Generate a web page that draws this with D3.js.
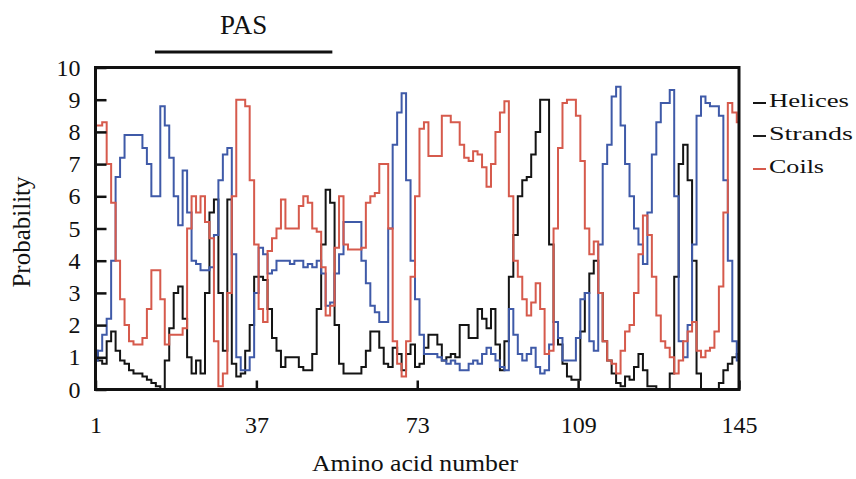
<!DOCTYPE html>
<html>
<head>
<meta charset="utf-8">
<script src="https://cdn.jsdelivr.net/npm/d3@7"></script>
<style>
  html, body { margin: 0; padding: 0; background: #fff; }
  svg { display: block; }
  text { font-family: "Liberation Serif", "Times New Roman", serif; fill: #111; }
</style>
</head>
<body>
<svg id="chart" width="856" height="479"></svg>
<script>
// ---- data ----
const residues = d3.range(1, 146);
const helices = [1.2,0.9,0.8,1.5,1.8,1.2,0.9,0.8,0.6,0.5, 0.5,0.4,0.3,0.2,0.1,0.0,0.9,1.9,3.0,3.2,
  2.2,1.0,0.5,0.9,0.5,3.0,5.5,5.9,3.0,1.2, 5.9,0.8,0.4,0.5,1.2,2.0,3.5,3.5,3.4,2.5,
  1.6,1.2,0.7,1.0,1.0,1.0,0.7,0.6,0.6,1.1, 2.5,4.5,6.2,5.8,2.0,0.8,0.5,0.5,0.5,0.5,
  0.7,1.2,1.8,1.8,1.3,0.8,0.7,1.3,1.1,0.6, 1.1,1.4,0.7,0.8,1.3,1.7,1.7,1.4,0.9,1.0,
  1.1,1.0,2.0,2.0,1.6,1.6,2.5,2.2,1.9,2.5, 1.4,0.6,1.5,3.5,4.8,6.0,6.5,6.6,7.3,8.0,
  9.0,9.0,4.5,2.1,1.4,0.8,0.4,0.3,0.3,1.8, 3.0,3.6,4.0,3.0,1.5,0.9,0.5,0.2,0.1,0.4,
  0.3,0.7,1.1,0.6,0.1,0.1,0.0,0.0,0.0,0.5, 3.5,7.0,7.6,6.5,4.0,0.5,0.0,0.0,0.0,0.0,
  0.2,0.6,0.8,1.0,1.1];
const strands = [0.9,1.2,1.7,2.2,4.0,6.6,7.2,7.9,7.9,7.9, 7.9,7.5,7.0,6.0,6.0,8.8,8.2,7.2,6.0,5.1,
  6.8,5.5,4.0,3.9,3.7,3.7,3.8,4.8,6.5,7.3, 7.5,4.2,1.0,0.6,0.6,1.0,3.0,4.4,4.2,3.6,
  3.7,4.0,4.0,4.0,3.9,4.0,4.0,3.8,3.9,3.8, 4.0,3.6,2.6,2.7,3.6,4.2,5.2,5.2,5.2,5.2,
  4.0,3.3,2.6,2.4,2.1,2.1,5.0,7.6,8.6,9.2, 6.5,4.0,2.8,1.7,1.1,1.1,1.1,1.0,0.9,0.8,
  0.9,0.8,0.6,0.6,0.8,0.9,0.8,1.1,1.3,1.1, 0.9,0.7,0.6,2.5,1.7,1.1,0.9,1.1,1.3,0.7,
  0.5,0.6,1.4,2.1,1.6,0.9,0.9,0.9,1.6,2.8, 3.0,1.5,1.2,4.5,7.0,7.6,9.1,9.4,8.2,7.0,
  6.0,5.0,4.5,3.9,5.5,7.3,8.3,8.9,8.9,9.3, 6.0,1.5,1.0,2.0,4.5,8.5,9.1,8.9,8.8,8.8,
  8.5,6.5,4.0,1.5,0.9];
const coils = [8.2,8.2,8.3,7.0,5.8,4.0,2.8,2.0,1.5,1.4, 1.4,1.6,2.5,3.7,3.7,2.8,1.4,1.7,1.7,1.7,
  1.9,5.0,6.0,5.5,6.0,5.2,4.7,1.5,0.1,0.5, 3.0,6.0,9.0,9.0,8.8,6.5,4.5,2.5,2.1,4.3,
  4.7,5.0,5.9,5.0,5.0,5.0,5.7,6.0,5.8,5.0, 4.9,3.8,2.3,2.6,4.4,6.0,4.5,4.35,4.35,4.35,
  4.4,5.8,6.0,6.1,7.0,7.0,5.0,1.5,0.8,0.4, 1.5,3.5,6.0,8.1,8.3,7.25,7.25,7.25,8.5,8.5,
  8.3,8.3,7.6,7.2,7.1,7.4,7.3,6.9,6.3,7.0, 8.0,8.6,8.95,6.0,4.0,3.5,2.8,2.3,2.7,3.3,
  2.5,1.1,1.2,5.0,7.5,8.9,9.0,9.0,8.5,7.1, 5.0,4.2,4.6,3.0,1.5,0.9,0.8,0.5,1.2,1.8,
  2.0,3.0,4.2,5.4,4.8,3.5,2.3,1.5,1.3,1.0, 0.5,0.9,1.5,1.8,2.1,1.2,1.0,1.2,1.3,1.8,
  3.2,5.5,8.9,8.6,8.3];
const seriesNames = ["Helices", "Strands", "Coils"];
const xTicks = [1, 37, 73, 109, 145];
const yTicks = [0,1,2,3,4,5,6,7,8,9,10];
const pasDomain = [14.3, 54];
const pasLabel = "PAS";

// ---- drawing ----
const svg = d3.select("#chart");
const x = d3.scaleLinear().domain([1, 145]).range([95.5, 739]);
const y = d3.scaleLinear().domain([0, 10]).range([389.5, 67.5]);
const colors = { Helices: "#141414", Strands: "#3f5aa8", Coils: "#d65a4c" };
const legendColors = { Helices: "#141414", Strands: "#1e1e1e", Coils: "#d65a4c" };

// lines
const line = d3.line().x((d, i) => x(residues[i])).y(d => y(d)).curve(d3.curveStep);
const dataBy = { Helices: helices, Strands: strands, Coils: coils };
seriesNames.forEach(name => {
  svg.append("path")
    .datum(dataBy[name])
    .attr("d", line)
    .attr("fill", "none")
    .attr("stroke", colors[name])
    .attr("stroke-width", 2)
    .attr("stroke-linejoin", "miter");
});

// axes (inside ticks)
const yAxis = d3.axisLeft(y).tickValues(yTicks).tickSizeInner(-11).tickSizeOuter(0).tickPadding(15);
const gy = svg.append("g").attr("transform", `translate(${x.range()[0]},0)`).call(yAxis);
const xAxis = d3.axisBottom(x).tickValues(xTicks).tickSizeInner(-9).tickSizeOuter(0).tickPadding(26);
const gx = svg.append("g").attr("transform", `translate(0,${y.range()[0]})`).call(xAxis);
[gx, gy].forEach(g => {
  g.select(".domain").remove();
  g.selectAll(".tick line").attr("stroke", "#111").attr("stroke-width", 2.5);
  g.selectAll(".tick text").style("font-family", '"Liberation Serif", serif')
    .style("font-size", "24px").attr("fill", "#111");
});

// frame
svg.append("rect")
  .attr("x", x.range()[0]).attr("y", y.range()[1])
  .attr("width", x.range()[1] - x.range()[0])
  .attr("height", y.range()[0] - y.range()[1])
  .attr("fill", "none").attr("stroke", "#111").attr("stroke-width", 3);

// PAS bar + label
svg.append("line")
  .attr("x1", x(pasDomain[0])).attr("x2", x(pasDomain[1]))
  .attr("y1", 52).attr("y2", 52)
  .attr("stroke", "#111").attr("stroke-width", 3);
svg.append("text")
  .attr("x", (x(pasDomain[0]) + x(pasDomain[1])) / 2).attr("y", 34)
  .attr("text-anchor", "middle").style("font-size", "27px").text(pasLabel);

// axis titles
svg.append("text")
  .attr("x", 415).attr("y", 471).attr("text-anchor", "middle")
  .style("font-size", "24px").attr("textLength", 206).attr("lengthAdjust", "spacingAndGlyphs")
  .text("Amino acid number");
svg.append("text")
  .attr("transform", "translate(30,232) rotate(-90)")
  .attr("text-anchor", "middle").style("font-size", "25px")
  .text("Probability");

// legend
const legendW = { Helices: 80, Strands: 84, Coils: 55 };
seriesNames.forEach((name, i) => {
  const by = 106.5 + i * 33;
  svg.append("line")
    .attr("x1", 753).attr("x2", 766).attr("y1", by - 3.5).attr("y2", by - 3.5)
    .attr("stroke", legendColors[name]).attr("stroke-width", 2);
  svg.append("text")
    .attr("x", 769).attr("y", by)
    .style("font-size", "19px")
    .attr("textLength", legendW[name]).attr("lengthAdjust", "spacingAndGlyphs")
    .text(name);
});
</script>
</body>
</html>
